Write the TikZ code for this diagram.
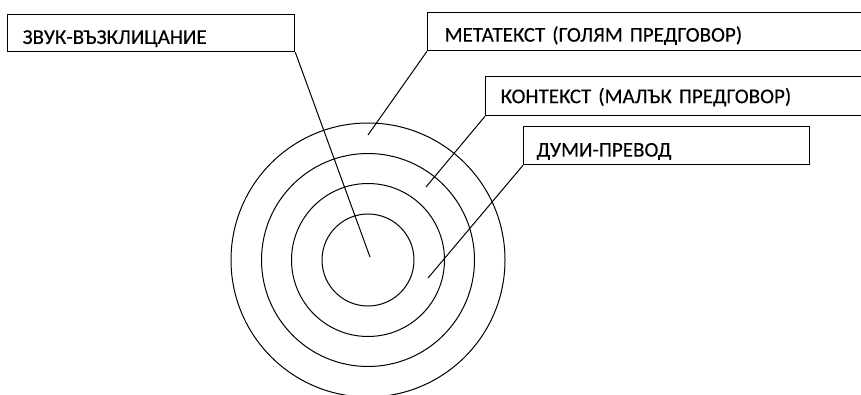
\documentclass[tikz,border=0pt]{standalone}
\usepackage{fontspec}
\setmainfont[FakeBold=0.2]{Carlito}
\begin{document}
\begin{tikzpicture}[x=1pt,y=-1pt,
  lbl/.style={draw, line width=1.3pt, rectangle, anchor=north west, inner ysep=0pt,
     font=\fontsize{21}{24}\selectfont, align=left, text depth=0pt},
  conn/.style={line width=1pt},
  ring/.style={line width=1pt}]
\useasboundingbox (0,0) rectangle (861,395);
\clip (0,0) rectangle (861,395);
\coordinate (c) at (368,260);
\draw[ring] (c) circle[radius=46];
\draw[ring] (c) circle[radius=76.5];
\draw[ring] (c) circle[radius=106.5];
\draw[ring] (c) circle[radius=137];
\node[lbl, minimum width=287, minimum height=37, inner xsep=15pt, text width=257pt, text height=21.5pt] (zvuk) at (7,14) {ЗВУК-ВЪЗКЛИЦАНИЕ};
\node[lbl, minimum width=460, minimum height=38, inner xsep=17pt, text width=426pt, text height=20pt] (meta) at (427,12) {МЕТАТЕКСТ (ГОЛЯМ ПРЕДГОВОР)};
\node[lbl, minimum width=400, minimum height=39, inner xsep=15pt, text width=370pt, text height=14pt] (kont) at (485,76) {КОНТЕКСТ (МАЛЪК ПРЕДГОВОР)};
\node[lbl, minimum width=286, minimum height=38, inner xsep=13pt, text width=260pt, text height=22pt] (dumi) at (523,126) {ДУМИ-ПРЕВОД};
\coordinate (pz) at (370,257);
\coordinate (pm) at (368,135);
\coordinate (pk) at (426,187);
\coordinate (pd) at (428,278);
\draw[conn] (zvuk.south east) -- (pz);
\draw[conn] (meta.south west) -- (pm);
\draw[conn] (kont.south west) -- (pk);
\draw[conn] (dumi.south west) -- (pd);
\end{tikzpicture}
\end{document}
